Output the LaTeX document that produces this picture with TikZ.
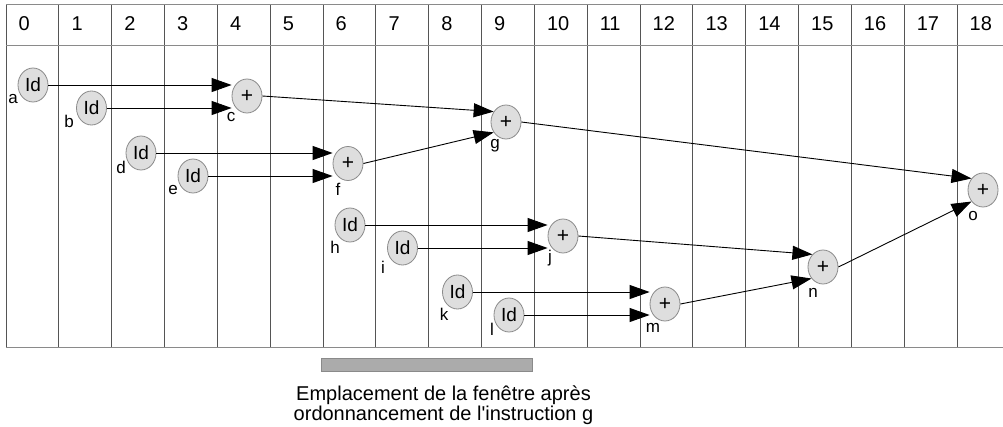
\documentclass[tikz,border=0pt]{standalone}
\usepackage{fontspec}
\setmainfont{Liberation Sans}
\usetikzlibrary{arrows.meta,shapes.geometric}
\definecolor{nodefill}{HTML}{DEDEDE}
\definecolor{nodeline}{HTML}{8A8A8A}
\definecolor{gridv}{HTML}{555555}
\definecolor{gridh}{HTML}{8A8A8A}
\definecolor{barfill}{HTML}{ABABAB}
\begin{document}
\begin{tikzpicture}[x=1pt,y=-1pt,
  opnode/.style={ellipse,minimum width=30pt,minimum height=34pt,inner sep=0pt,
    fill=nodefill,draw=nodeline,line width=0.8pt},
  ldnode/.style={opnode,font=\fontsize{19}{19}\selectfont},
  addnode/.style={opnode,font=\fontsize{21}{21}\selectfont},
  lbl/.style={inner sep=0pt,anchor=center,font=\fontsize{17}{17}\selectfont},
  hdr/.style={inner sep=0pt,anchor=base west,font=\fontsize{20}{20}\selectfont},
  captext/.style={inner sep=0pt,anchor=base,font=\fontsize{20}{20}\selectfont},
  arr/.style={line width=0.9pt,-{Triangle[length=20pt,width=14pt]}}
]
\useasboundingbox (0,0) rectangle (1003,426);
% grid
\foreach \k in {0,...,18}{
  \draw[gridv,line width=0.9pt] ({6+52.83*\k},4) -- ({6+52.83*\k},347);
  \node[hdr] (h\k) at ({6+52.83*\k+12.5},30) {\k};
}
\draw[gridh,line width=0.9pt] (6,4) -- (1003,4);
\draw[gridh,line width=0.9pt] (6,45) -- (1003,45);
\draw[gridh,line width=0.9pt] (6,347) -- (1003,347);
% nodes
\node[ldnode] (a) at (33,85) {Id};
\node[ldnode] (b) at (91.5,108) {Id};
\node[addnode] (c) at (247,96) {+};
\node[ldnode] (d) at (141,153) {Id};
\node[ldnode] (e) at (193,176) {Id};
\node[addnode] (f) at (348,163.5) {+};
\node[addnode] (g) at (506,122) {+};
\node[ldnode] (h) at (350,225) {Id};
\node[ldnode] (i) at (402.5,248) {Id};
\node[addnode] (j) at (563,236) {+};
\node[ldnode] (k) at (457.5,292) {Id};
\node[ldnode] (l) at (509,315) {Id};
\node[addnode] (m) at (665,304) {+};
\node[addnode] (n) at (823,267) {+};
\node[addnode] (o) at (983,190) {+};
% labels
\node[lbl] (la) at (13,99.5) {a};
\node[lbl] (lb) at (69,121) {b};
\node[lbl] (lc) at (231,117) {c};
\node[lbl] (ld) at (121,167) {d};
\node[lbl] (le) at (173,190) {e};
\node[lbl] (lf) at (338,189) {f};
\node[lbl] (lg) at (495,145.5) {g};
\node[lbl] (lh) at (335,247) {h};
\node[lbl] (li) at (383,267) {i};
\node[lbl] (lj) at (550,258) {j};
\node[lbl] (lk) at (444,314) {k};
\node[lbl] (ll) at (492,329) {l};
\node[lbl] (lm) at (653,328) {m};
\node[lbl] (ln) at (813,293) {n};
\node[lbl] (lo) at (973,216) {o};
% arrows
\draw[arr] (a.east) -- (a.east -| c.west);
\draw[arr] (b.east) -- (b.east -| c.west);
\draw[arr] (d.east) -- (d.east -| f.west);
\draw[arr] (e.east) -- (e.east -| f.west);
\draw[arr] (h.east) -- (h.east -| j.west);
\draw[arr] (i.east) -- (i.east -| j.west);
\draw[arr] (k.east) -- (k.east -| m.west);
\draw[arr] (l.east) -- (l.east -| m.west);
\draw[arr] (c.east) -- (g.140);
\draw[arr] (f.east) -- (g.220);
\draw[arr] (g.east) -- (o.135);
\draw[arr] (j.east) -- (n.130);
\draw[arr] (m.east) -- (n.225);
\draw[arr] (n.east) -- (o.225);
% window bar
\draw[fill=barfill,draw=gridh,line width=0.8pt] (321,358) rectangle (532,371);
\node[captext] (t1) at (443.5,400) {Emplacement de la fenêtre après};
\node[captext] (t2) at (443.5,420) {ordonnancement de l\textquotesingle instruction g};
\end{tikzpicture}
\end{document}
